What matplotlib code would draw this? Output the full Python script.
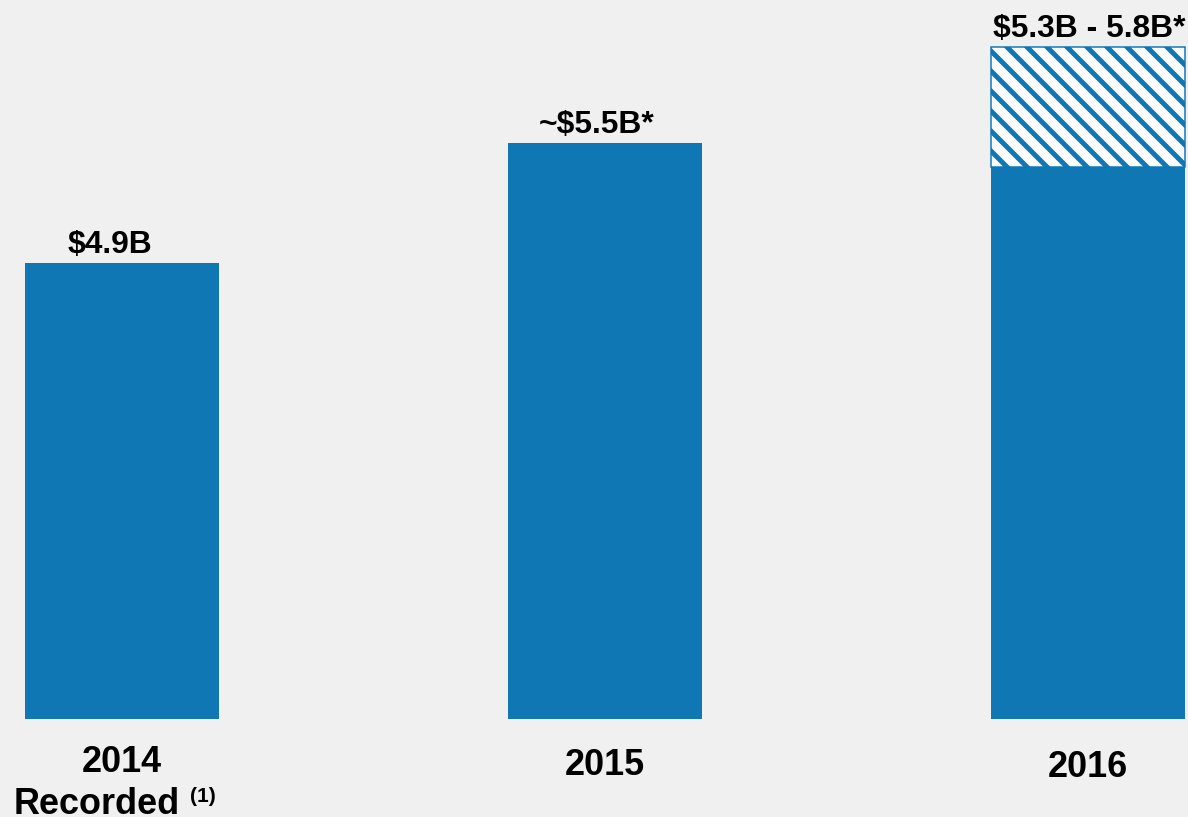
import matplotlib
matplotlib.use('Agg')
import matplotlib.pyplot as plt
from matplotlib.transforms import blended_transform_factory

# values (bar heights in picture units, axis starts at 0)
years = ['2014', '2015', '2016']
bar_heights = [4.9, 6.19, 5.93]
range_low = 5.93
range_high = 7.22
value_labels = ['\\$4.9B', '~\\$5.5B*', '\\$5.3B - 5.8B*']
sub_labels = ['Recorded', '', '']

blue = '#0f77b3'
bg = '#f0f0f0'

# dpi 60 gives the hatch the stripe spacing of the original
dpi = 60
W, H = 1188, 817


def pt(px):
    return px * 72 / dpi


plt.rcParams['font.family'] = ['Liberation Sans', 'DejaVu Sans']
plt.rcParams['font.weight'] = 'bold'
plt.rcParams['hatch.linewidth'] = pt(5)

fig = plt.figure(figsize=(W / dpi, H / dpi), dpi=dpi, facecolor=bg)
ax = fig.add_axes([0, 0, 1, 1])
ax.set_facecolor(bg)

x = list(range(len(years)))
width = 0.403
ax.bar(x, bar_heights, width=width, color=blue, linewidth=0)
ax.bar(2, range_high - range_low, bottom=range_low, width=width,
       color='white', edgecolor=blue, hatch='\\', linewidth=pt(1.5))

ax.set_xlim(-122 / 483, (W - 122) / 483)
ax.set_ylim(-98 / 93.06, 719 / 93.06)
ax.axis('off')

# value labels above bars
tops = [bar_heights[0], bar_heights[1], range_high]
dx = [-12, -8, 1]
for i in x:
    ax.annotate(value_labels[i], (i, tops[i]), xytext=(pt(dx[i]), pt(10)),
                textcoords='offset points', ha='center', va='baseline',
                fontsize=pt(31.7), fontweight='bold', color='black')

# category labels under bars
tr = blended_transform_factory(ax.transData, ax.transAxes)
base_y = [772, 775, 777]
for i in x:
    ax.text(i, 1 - base_y[i] / H, years[i], transform=tr, ha='center',
            va='baseline', fontsize=pt(36), fontweight='bold', color='black')
ax.text(-0.053, 1 - 814 / H, sub_labels[0], transform=tr, ha='center',
        va='baseline', fontsize=pt(36), fontweight='bold', color='black')
ax.text(0.14, 1 - 802 / H, '(1)', transform=tr, ha='left',
        va='baseline', fontsize=pt(21), fontweight='bold', color='black')

fig.savefig('out.png', dpi=dpi, facecolor=bg)
